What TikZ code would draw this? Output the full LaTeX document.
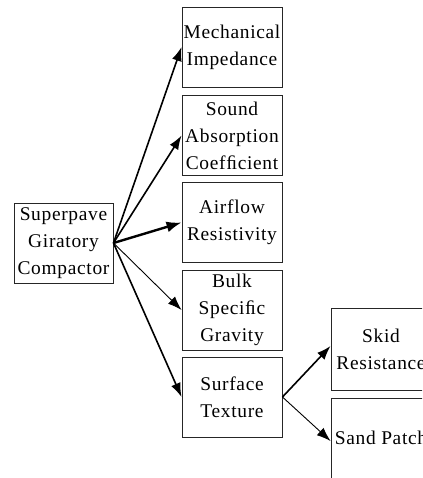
\documentclass[tikz,border=0pt]{standalone}
\usepackage{fontspec}
\setmainfont{Liberation Serif}[LetterSpace=3.5]
\usetikzlibrary{arrows.meta}
\begin{document}
\begin{tikzpicture}[x=1bp,y=-1bp,
  box/.style={draw=black!85,line width=0.9bp,minimum width=100bp,minimum height=80bp,
    inner sep=0pt,align=center,font=\fontsize{19.5}{27}\selectfont},
  arr/.style={-{Latex[length=14bp,width=10bp]},line width=1.6bp},
  arrthin/.style={-{Latex[length=14bp,width=10bp]},line width=0.9bp},
  arrthick/.style={-{Latex[length=15bp,width=11bp]},line width=2.4bp}]
\useasboundingbox (0,0) rectangle (422,478);
\clip (0,0) rectangle (422,478);
\fill[white] (0,0) rectangle (422,478);
\node[box,minimum width=99bp] (sgc) at (63.5,243) {Superpave\\Giratory\\Compactor};
\node[box] (mi) at (232,47) {Mechanical\\Impedance};
\node[box] (sac) at (232,135.5) {Sound\\Absorption\\Coefﬁcient};
\node[box] (ar) at (232,222.5) {Airflow\\Resistivity};
\node[box] (bsg) at (232,310) {Bulk\\Speciﬁc\\Gravity};
\node[box] (st) at (232,397) {Surface\\Texture};
\node[box,minimum height=82bp] (sr) at (381,349) {Skid\\Resistance};
\node[box,minimum height=80bp] (sp) at (381,438) {Sand Patch};
\draw[arr] (sgc.east) -- (mi.west);
\draw[arr] (sgc.east) -- (sac.west);
\draw[arrthick] (sgc.east) -- (ar.west);
\draw[arrthin] (sgc.east) -- (bsg.west);
\draw[arr] (sgc.east) -- (st.west);
\draw[arr] (st.east) -- ([yshift=3bp]sr.west);
\draw[arrthin] (st.east) -- ([yshift=-3bp]sp.west);
\end{tikzpicture}
\end{document}
